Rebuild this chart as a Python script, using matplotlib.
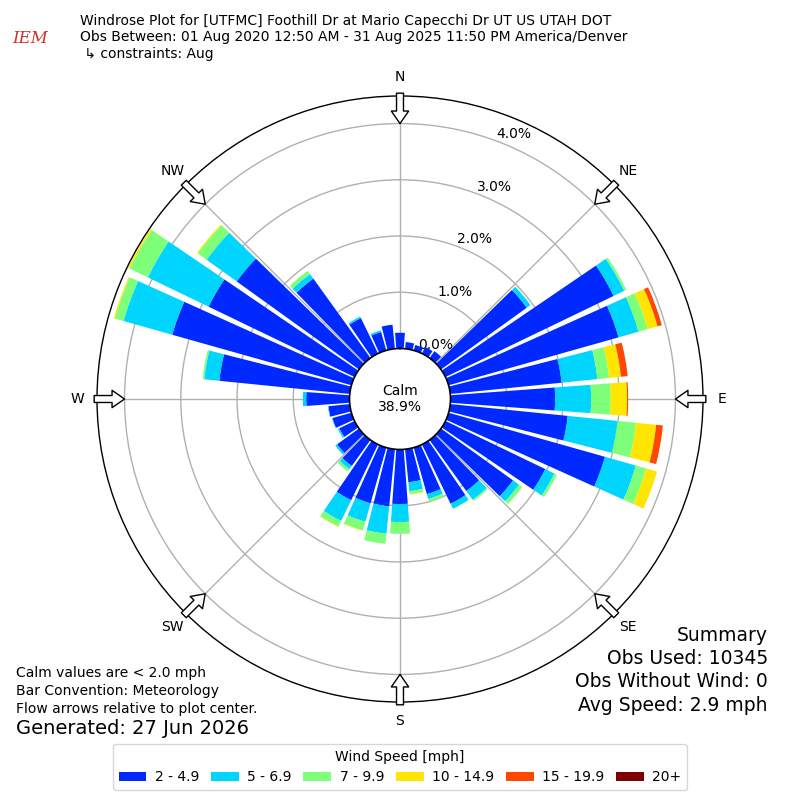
import numpy as np
import matplotlib
matplotlib.use("Agg")
import matplotlib.pyplot as plt

# direction bins (deg, meteorological) and speed bins
directions = np.arange(0, 360, 10)
speed_labels = ["2 - 4.9", "5 - 6.9", "7 - 9.9", "10 - 14.9", "15 - 19.9", "20+"]

# percent of observations per direction for each speed bin
spd_2_5 = [0.28, 0.12, 0.10, 0.13, 0.15, 1.88, 3.32, 3.14, 1.99, 1.86, 2.10, 2.89,
           1.97, 1.58, 1.12, 1.17, 0.86, 0.59, 0.97, 1.02, 1.03, 1.10, 0.57, 0.48,
           0.30, 0.35, 0.38, 0.77, 2.33, 3.31, 2.88, 2.68, 1.74, 0.70, 0.34, 0.43]
spd_5_7 = [0, 0, 0, 0, 0, 0.08, 0.21, 0.37, 0.64, 0.64, 0.89, 0.57,
           0.18, 0.13, 0.19, 0.10, 0.09, 0.16, 0.32, 0.49, 0.34, 0.41, 0.07, 0.04,
           0.03, 0.01, 0.01, 0.06, 0.27, 0.90, 1.20, 0.66, 0.10, 0.03, 0.03, 0]
spd_7_10 = [0, 0, 0, 0, 0, 0, 0.04, 0.17, 0.21, 0.35, 0.33, 0.19,
            0.05, 0.07, 0.03, 0, 0.05, 0.05, 0.21, 0.18, 0.16, 0.11, 0.05, 0,
            0, 0, 0, 0, 0.03, 0.16, 0.36, 0.19, 0.07, 0, 0, 0]
spd_10_15 = [0, 0, 0, 0, 0, 0, 0, 0.18, 0.21, 0.29, 0.36, 0.20,
             0, 0, 0, 0, 0, 0.01, 0, 0, 0.01, 0.01, 0, 0,
             0, 0, 0, 0, 0, 0.02, 0.03, 0.02, 0, 0, 0, 0]
spd_15_20 = [0, 0, 0, 0, 0, 0, 0, 0.08, 0.12, 0.02, 0.12, 0,
             0, 0, 0, 0, 0, 0, 0, 0, 0, 0, 0, 0,
             0, 0, 0, 0, 0, 0, 0, 0, 0, 0, 0, 0]
spd_20p = [0] * 36

calm_pct = 38.9
radial_ticks = [0, 1, 2, 3, 4]
compass = ["N", "NE", "E", "SE", "S", "SW", "W", "NW"]

title = ("Windrose Plot for [UTFMC] Foothill Dr at Mario Capecchi Dr UT US UTAH DOT\n"
         "Obs Between: 01 Aug 2020 12:50 AM - 31 Aug 2025 11:50 PM America/Denver\n"
         " \u21b3 constraints: Aug")
notes = ("Calm values are < 2.0 mph\nBar Convention: Meteorology\n"
         "Flow arrows relative to plot center.")
summary_lines = ["Summary", "Obs Used: 10345", "Obs Without Wind: 0",
                 "Avg Speed: 2.9 mph"]

series = [spd_2_5, spd_5_7, spd_7_10, spd_10_15, spd_15_20, spd_20p]
colors = plt.cm.jet(np.arange(1, 7) / 6.0)

fig = plt.figure(figsize=(8, 8), dpi=100)
ax = fig.add_axes([0.12125, 0.1225, 0.7575, 0.7575], projection="polar")
ax.set_theta_zero_location("N")
ax.set_theta_direction(-1)
ax.set_axisbelow(True)

theta = np.deg2rad(directions)
width = np.deg2rad(10) * 0.85
bottom = np.zeros(len(directions))
handles = []
for vals, color, label in zip(series, colors, speed_labels):
    vals = np.array(vals, dtype=float)
    b = ax.bar(theta, vals, width=width, bottom=bottom, color=color,
               linewidth=0, label=label, zorder=2)
    handles.append(b)
    bottom += vals

ymax = 4.49
ax.set_ylim(0, ymax)
ax.set_rorigin(-0.2 * ymax)
ax.set_rgrids(radial_ticks, labels=["%.1f%%" % t for t in radial_ticks],
              angle=20.5, fontsize=10)
ax.set_thetagrids(np.arange(0, 360, 45), labels=[""] * 8)
ax.grid(True, color="#b0b0b0", lw=1)
ax.spines["polar"].set_linewidth(1)
ax.spines["inner"].set_linewidth(1.2)

ax.text(0.5, 0.5, "Calm\n%.1f%%" % calm_pct, transform=ax.transAxes,
        ha="center", va="center", fontsize=10, zorder=6)

# flow arrows and compass labels
for i, name in enumerate(compass):
    t = np.deg2rad(i * 45)
    ax.annotate("", xy=(t, 4.0), xytext=(t, ymax + 0.05),
                arrowprops=dict(arrowstyle="simple,head_length=0.9,head_width=1.25,tail_width=0.5",
                                fc="white", ec="k", lw=1, shrinkA=0, shrinkB=0),
                annotation_clip=False, zorder=5)
    ax.text(t, 4.83, name, ha="center", va="center", fontsize=10, clip_on=False)

fig.text(0.1, 0.983, title, ha="left", va="top", fontsize=10, linespacing=1.25)
fig.text(0.038, 0.952, "IEM", color="#d03030", fontsize=12, style="italic",
         family="DejaVu Serif", ha="center", va="center")
fig.text(0.02, 0.167, notes, ha="left", va="top", fontsize=10, linespacing=1.35)
fig.text(0.02, 0.089, "Generated: 27 Jun 2026", ha="left", va="center", fontsize=14)
for k, line in enumerate(summary_lines):
    fig.text(0.96, 0.206 - k * 0.0292, line, ha="right", va="center", fontsize=13.5)

fig.legend(handles, speed_labels, loc="lower center", bbox_to_anchor=(0.5, 0.0125),
           ncol=6, title="Wind Speed [mph]", fontsize=10, title_fontsize=10,
           handletextpad=0.6, columnspacing=0.85, borderaxespad=0)

fig.savefig("out.png", dpi=100)
